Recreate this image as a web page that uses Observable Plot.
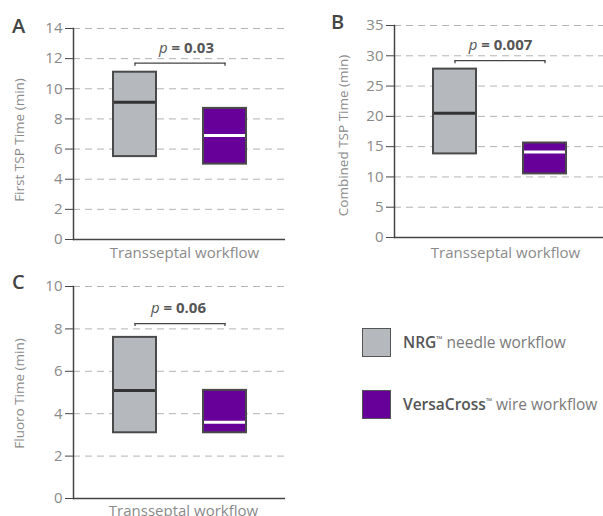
<!DOCTYPE html>
<html>
<head>
<meta charset="utf-8">
<script src="https://cdn.jsdelivr.net/npm/d3@7"></script>
<script src="https://cdn.jsdelivr.net/npm/@observablehq/plot@0.6"></script>
<style>
  html, body { margin: 0; padding: 0; background: #fff; overflow: hidden; }
  #root { position: relative; width: 603px; height: 516px; overflow: hidden; font-family: "Open Sans", sans-serif; }
  .panel { position: absolute; }
  .letter { position: absolute; font-size: 20px; font-weight: 600; color: #444; line-height: 1; }
  .leg-sq { position: absolute; width: 27px; height: 27px; border: 1.5px solid #555; }
  .leg-tx { position: absolute; font-size: 15.5px; color: #7a7a7a; line-height: 1; white-space: nowrap; }
  .leg-tx b { color: #555; font-weight: 600; }
  .leg-tx sup { font-size: 8px; vertical-align: 6px; font-weight: 600; color: #555; }
</style>
</head>
<body>
<div id="root"></div>
<script>
// ---- data ----
const groups = ["NRG", "VersaCross"];
const groupFill = ["#b5b8bc", "#660099"];
const medianStroke = ["#333333", "#ffffff"];
const legendNames = ["NRG", "VersaCross"];
const legendRest = [" needle workflow", " wire workflow"];

const firstQ1 = [5.5, 5.0];
const firstQ3 = [11.1, 8.7];
const firstMed = [9.1, 6.9];

const combQ1 = [13.8, 10.5];
const combQ3 = [27.8, 15.6];
const combMed = [20.5, 14.1];

const fluoroQ1 = [3.1, 3.1];
const fluoroQ3 = [7.6, 5.1];
const fluoroMed = [5.1, 3.6];

const pValues = ["0.03", "0.007", "0.06"];
const bracketY = [11.7, 29.2, 8.25];

const ticksA = [0, 2, 4, 6, 8, 10, 12, 14];
const ticksB = [0, 5, 10, 15, 20, 25, 30, 35];
const ticksC = [0, 2, 4, 6, 8, 10];

const yLabels = ["First TSP Time (min)", "Combined TSP Time (min)", "Fluoro Time (min)"];
const xLabel = "Transseptal workflow";
const letters = ["A", "B", "C"];

function rows(q1, q3, med) {
  return groups.map((g, i) => ({group: g, q1: q1[i], q3: q3[i], med: med[i], fill: groupFill[i], mstroke: medianStroke[i]}));
}

function panel(cfg) {
  const data = rows(cfg.q1, cfg.q3, cfg.med);
  const ticks = cfg.ticks;
  const ymax = ticks[ticks.length - 1];
  return Plot.plot({
    width: cfg.width, height: cfg.height,
    marginLeft: cfg.ml, marginRight: cfg.mr, marginTop: cfg.mt, marginBottom: cfg.mb,
    x: {domain: groups, paddingInner: 0.527, paddingOuter: 0.429, axis: null},
    y: {domain: [0, ymax], axis: null},
    color: {type: "identity"},
    style: {fontFamily: "Open Sans, sans-serif", fontSize: "15px", background: "transparent", overflow: "visible"},
    marks: [
      Plot.gridY(ticks, {stroke: "#b3b3b3", strokeOpacity: 1, strokeDasharray: "7,5", strokeWidth: 1}),
      Plot.axisY(ticks, {tickSize: 8, tickPadding: 3, fontSize: 15, fill: "#8a8a8a", stroke: "#444", label: null}),
      Plot.ruleY([0], {stroke: "#444", strokeWidth: 1.5}),
      Plot.frame({anchor: "left", stroke: "#444", strokeWidth: 1.5}),
      Plot.barY(data, {x: "group", y1: "q1", y2: "q3", fill: "fill", stroke: "#4a4a4a", strokeWidth: 2}),
      Plot.tickY(data, {x: "group", y: "med", stroke: "mstroke", strokeWidth: 3, inset: 1}),
      Plot.line(groups, {x: d => d, y: () => cfg.bracket, stroke: "#444", strokeWidth: 1.3}),
      Plot.ruleX(groups, {x: d => d, y1: () => cfg.bracket, y2: () => cfg.bracket, insetBottom: -3, stroke: "#444", strokeWidth: 1.3}),
      Plot.text([cfg.p], {y: () => cfg.bracket, text: d => "p = " + d, frameAnchor: "middle", dy: -15, dx: cfg.pdx, fontSize: 15, fontWeight: "bold", fill: "#555"}),
      Plot.text([cfg.ylabel], {frameAnchor: "left", rotate: -90, textAnchor: "middle", lineAnchor: "middle", dx: cfg.ydx, dy: cfg.ydy, fontSize: 13.5, fill: "#8a8a8a"}),
      Plot.text([xLabel], {frameAnchor: "bottom", lineAnchor: "middle", textAnchor: "middle", dy: cfg.xdy, dx: cfg.xdx, fontSize: 15, fill: "#8a8a8a"})
    ]
  });
}

const root = document.getElementById("root");
const cfgs = [
  {left: 0, top: 0, width: 300, height: 270, ml: 73, mr: 15, mt: 28, mb: 31, q1: firstQ1, q3: firstQ3, med: firstMed, ticks: ticksA, bracket: bracketY[0], p: pValues[0], pdx: 7, ylabel: yLabels[0], ydx: -54, ydy: 6, xdx: 5, xdy: 14},
  {left: 300, top: 0, width: 306, height: 270, ml: 94, mr: 2, mt: 25, mb: 33, q1: combQ1, q3: combQ3, med: combMed, ticks: ticksB, bracket: bracketY[1], p: pValues[1], pdx: 1, ylabel: yLabels[1], ydx: -51, ydy: 4, xdx: 6, xdy: 16},
  {left: 0, top: 260, width: 300, height: 256, ml: 73, mr: 15, mt: 26, mb: 18, q1: fluoroQ1, q3: fluoroQ3, med: fluoroMed, ticks: ticksC, bracket: bracketY[2], p: pValues[2], pdx: -1, ylabel: yLabels[2], ydx: -54, ydy: 1, xdx: 4, xdy: 13}
];
cfgs.forEach((cfg, i) => {
  const svg = panel(cfg);
  svg.classList.add("panel");
  svg.style.left = cfg.left + "px";
  svg.style.top = cfg.top + "px";
  svg.querySelectorAll("g").forEach(g => {
    const lab = g.getAttribute("aria-label") || "";
    if (lab.indexOf("tick label") >= 0) {
      g.setAttribute("font-size", "15");
      g.style.fontSize = "15px";
      g.querySelectorAll("text").forEach(t => { t.style.fontSize = "15px"; });
    }
  });
  svg.querySelectorAll("text").forEach(t => {
    const s = t.textContent;
    if (s.startsWith("p = ")) {
      const v = s.slice(4);
      t.innerHTML = '<tspan font-style="italic" font-weight="500">p</tspan> = ' + v;
    }
  });
  root.appendChild(svg);
});

// panel letters
[[12, 16], [331, 12], [12, 272]].forEach((pos, i) => {
  const d = document.createElement("div");
  d.className = "letter";
  d.style.left = pos[0] + "px";
  d.style.top = pos[1] + "px";
  d.textContent = letters[i];
  root.appendChild(d);
});

// legend
[[362, 328], [362, 390]].forEach((pos, i) => {
  const sq = document.createElement("div");
  sq.className = "leg-sq";
  sq.style.left = pos[0] + "px";
  sq.style.top = pos[1] + "px";
  sq.style.background = groupFill[i];
  root.appendChild(sq);
  const tx = document.createElement("div");
  tx.className = "leg-tx";
  tx.style.left = "403px";
  tx.style.top = (pos[1] + 7) + "px";
  tx.innerHTML = "<b>" + legendNames[i] + "</b><sup>™</sup>" + legendRest[i];
  root.appendChild(tx);
});
</script>
</body>
</html>
